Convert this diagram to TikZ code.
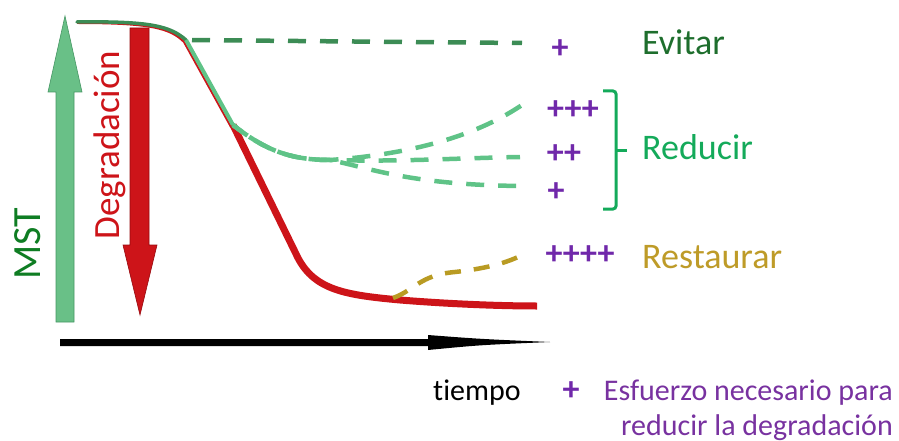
\documentclass[tikz,border=0pt]{standalone}
\usepackage{fontspec}
\setmainfont[RawFeature={-liga;-clig;-dlig}]{Carlito}
\definecolor{mstfill}{RGB}{105,192,135}
\definecolor{mstdraw}{RGB}{70,150,100}
\definecolor{mstText}{RGB}{15,125,35}
\definecolor{redA}{RGB}{205,20,25}
\definecolor{redD}{RGB}{150,10,15}
\definecolor{evitarC}{RGB}{30,110,45}
\definecolor{evitarLine}{RGB}{60,140,85}
\definecolor{reduC}{RGB}{20,170,90}
\definecolor{reduLine}{RGB}{95,195,135}
\definecolor{restC}{RGB}{190,155,40}
\definecolor{restLine}{RGB}{185,155,35}
\definecolor{purpC}{RGB}{112,40,170}
\definecolor{purpT}{RGB}{120,50,160}
\tikzset{
  big/.style={font=\fontsize{36}{40}\selectfont},
  small/.style={font=\fontsize{30}{34}\selectfont},
  plus/.style={text=purpC,font=\fontsize{34}{38}\selectfont\bfseries,inner sep=0pt},
  dashline/.style={line width=4.5pt,dash pattern=on 18pt off 14pt}
}
\begin{document}
\begin{tikzpicture}[x=1pt,y=-1pt]
\useasboundingbox (0,0) rectangle (899,441);
% MST arrow
\fill[mstfill,draw=mstdraw,line width=0.6pt] (56,322) -- (56,92) -- (48,92) -- (65,16) -- (82,92) -- (74,92) -- (74,322) -- cycle;
\node[rotate=90,text=mstText,font=\fontsize{40}{44}\selectfont] (mst) at (28,244) {MST};
% Degradacion arrow
\fill[redA,draw=redD,line width=0.6pt] (130,28) -- (130,245) -- (123,245) -- (140,315) -- (157,245) -- (149,245) -- (149,28) -- cycle;
\node[rotate=90,text=redA,font=\fontsize{37}{40}\selectfont] (deg) at (110,145) {Degradación};
% curve coordinates
\coordinate (s) at (77,22);
\coordinate (k) at (186,40);
\coordinate (b) at (233,125);
\coordinate (m) at (330,160);
% thin red under top curve
\draw[redA,line width=2pt] (77,23) .. controls (150,23) and (170,28) .. (184,42) -- (231,127);
% dark green top
\draw[evitarLine,line width=3.5pt,line cap=round] (s) .. controls (150,21) and (170,26) .. (k);
% light green descent
\draw[reduLine,line width=4pt] (k) -- (b);
% thick red
\draw[redA,line width=7pt] (b) -- (298,258) .. controls (315,290) and (345,295) .. (400,300) .. controls (450,304) and (500,306) .. (537,306);
% evitar dashed
\coordinate (e1) at (522,43);
\draw[evitarLine,dashline,dash phase=-6pt] (k) -- (e1);
% reducir dashed
\coordinate (r1) at (522,105);
\coordinate (r2) at (520,157);
\coordinate (r3) at (522,186);
\draw[reduLine,dashline] (b) .. controls (265,150) and (290,160) .. (m) .. controls (400,155) and (470,140) .. (r1);
\draw[reduLine,dashline,dash phase=6pt] (b) .. controls (265,150) and (290,160) .. (m) .. controls (400,162) and (460,158) .. (r2);
\draw[reduLine,dashline,dash phase=12pt] (b) .. controls (265,150) and (290,160) .. (m) .. controls (370,168) and (410,185) .. (r3);
% restaurar dashed
\coordinate (t0) at (393,298);
\coordinate (t1) at (528,252);
\draw[restLine,line width=4.5pt,dash pattern=on 16pt off 13pt] (t0) .. controls (415,290) and (420,275) .. (455,272) .. controls (490,268) and (510,262) .. (t1);
% time axis
\fill[black] (60,339) -- (428,339) -- (428,335) .. controls (480,339) .. (550,342) .. controls (480,345) .. (428,350) -- (428,346) -- (60,346) -- cycle;
% bracket
\draw[reduC,line width=3pt,rounded corners=3pt] (603,91) -- (616,91) -- (616,209) -- (603,209);
\draw[reduC,line width=3pt] (616,150) -- (627,150);
% labels
\node[big,text=evitarC,anchor=base west,inner sep=0pt] (ev) at (642,55) {Evitar};
\node[big,text=reduC,anchor=base west,inner sep=0pt] (re) at (642,160) {Reducir};
\node[big,text=restC,anchor=base west,inner sep=0pt] (rs) at (642,268) {Restaurar};
\node[plus] (p1) at (560,49) {+};
\node[plus] (p2) at (573,110) {+++};
\node[plus] (p3) at (564,154) {++};
\node[plus] (p4) at (556,192) {+};
\node[plus] (p5) at (580,255) {++++};
\node[small,anchor=base west,inner sep=0pt] (ti) at (433,400) {tiempo};
\node[plus] (lp) at (571,391) {+};
\node[small,text=purpT,anchor=base east,inner sep=0pt] (l1) at (893,400) {Esfuerzo necesario para};
\node[small,text=purpT,anchor=base east,inner sep=0pt] (l2) at (893,435) {reducir la degradación};
\end{tikzpicture}
\end{document}
